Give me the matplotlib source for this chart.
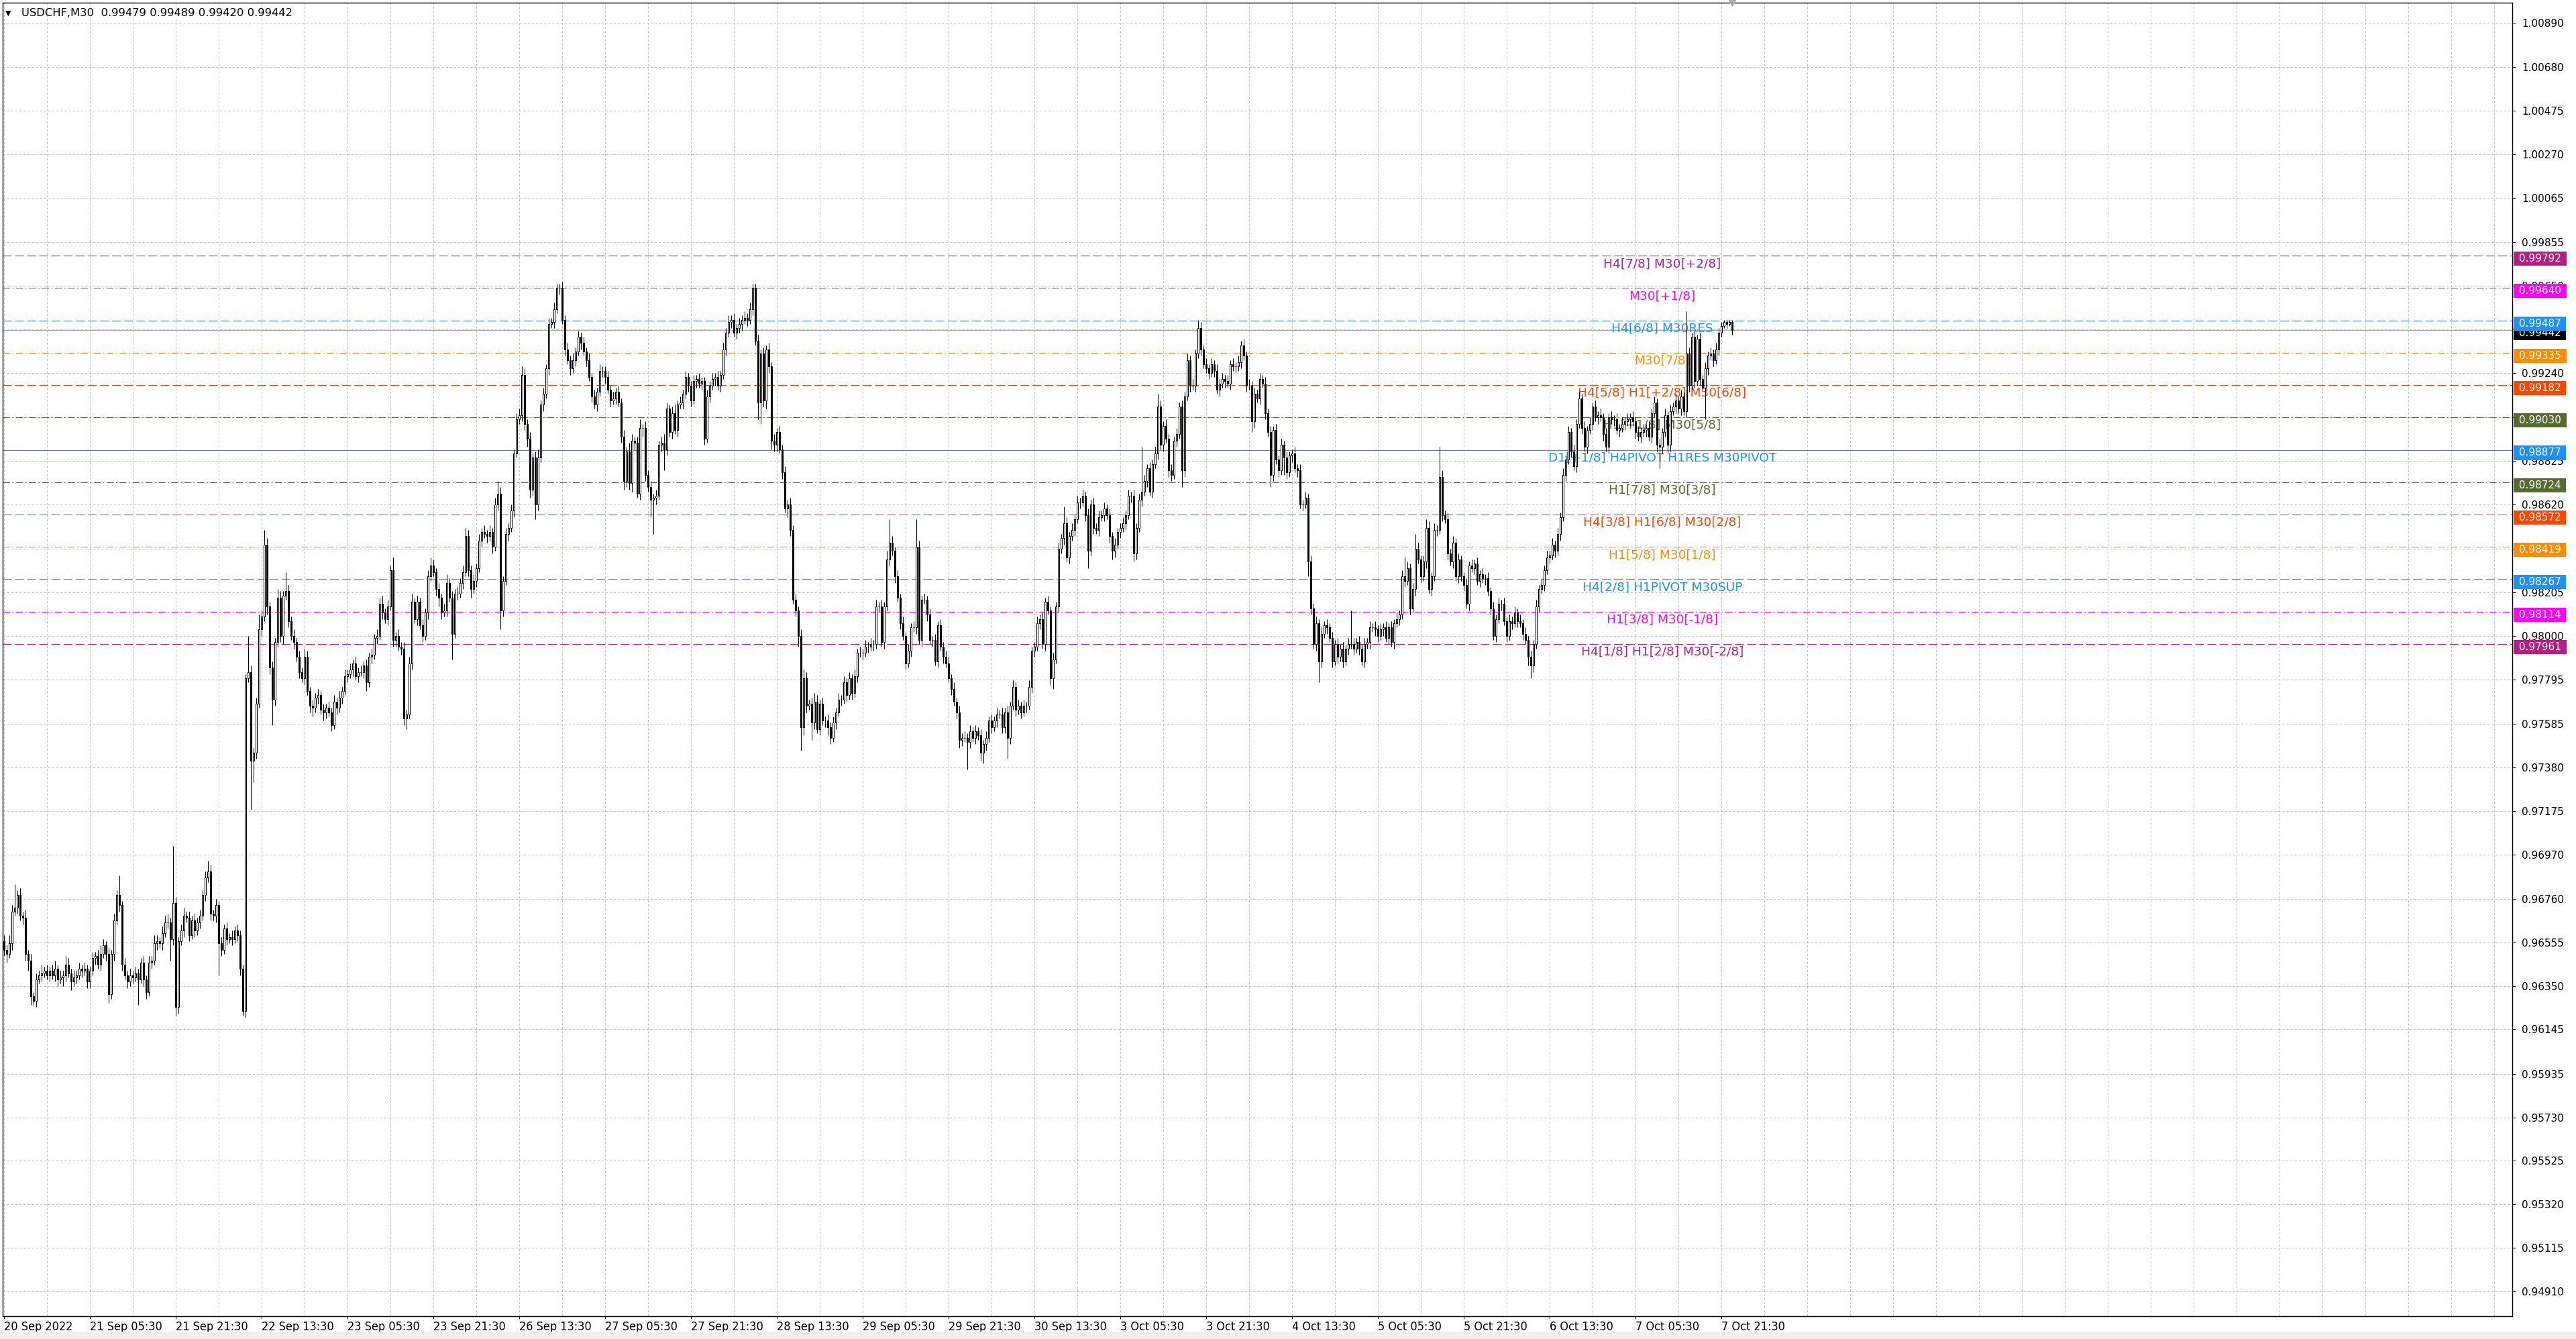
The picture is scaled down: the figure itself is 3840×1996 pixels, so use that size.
import matplotlib
matplotlib.use('Agg')
import matplotlib.pyplot as plt
from matplotlib import font_manager as fm
from matplotlib.patches import Rectangle
import numpy as np

plt.rcParams['font.family'] = 'DejaVu Sans'
plt.rcParams['lines.scale_dashes'] = False

# ---- data (prices in pips of 0.0001) ----
first_open = 9656
closes_pips = [
    9652, 9650, 9655, 9670, 9672, 9678, 9668, 9667, 9650, 9647, 9630, 9628, 9638, 9640, 9641, 9642,
    9640, 9642, 9640, 9643, 9638, 9639, 9640, 9645, 9641, 9637, 9639, 9640, 9643, 9642, 9643, 9637,
    9642, 9648, 9649, 9645, 9650, 9654, 9650, 9631, 9650, 9666, 9678, 9673, 9645, 9640, 9637, 9640,
    9639, 9641, 9638, 9646, 9638, 9632, 9646, 9647, 9655, 9656, 9655, 9660, 9665, 9665, 9657, 9674,
    9625, 9656, 9661, 9668, 9667, 9659, 9666, 9661, 9665, 9668, 9678, 9686, 9689, 9669, 9668, 9673,
    9655, 9652, 9662, 9657, 9658, 9657, 9661, 9659, 9643, 9623, 9780, 9783, 9741, 9745, 9768, 9803,
    9809, 9843, 9814, 9785, 9770, 9797, 9818, 9800, 9819, 9821, 9807, 9800, 9797, 9790, 9783, 9780,
    9790, 9774, 9767, 9766, 9771, 9772, 9765, 9764, 9766, 9764, 9758, 9769, 9766, 9771, 9774, 9781,
    9782, 9784, 9787, 9781, 9783, 9783, 9786, 9778, 9790, 9791, 9799, 9800, 9815, 9811, 9808, 9814,
    9831, 9798, 9800, 9795, 9794, 9761, 9763, 9787, 9816, 9808, 9816, 9805, 9800, 9811, 9828, 9833,
    9830, 9822, 9818, 9811, 9812, 9825, 9818, 9801, 9820, 9820, 9825, 9830, 9847, 9831, 9822, 9826,
    9832, 9845, 9849, 9848, 9847, 9849, 9842, 9862, 9867, 9812, 9826, 9848, 9851, 9859, 9886, 9902,
    9904, 9923, 9900, 9893, 9869, 9884, 9862, 9884, 9909, 9914, 9926, 9947, 9948, 9954, 9964, 9964,
    9949, 9935, 9930, 9926, 9930, 9934, 9941, 9938, 9934, 9930, 9922, 9913, 9909, 9915, 9925, 9925,
    9922, 9916, 9911, 9912, 9915, 9910, 9894, 9873, 9887, 9872, 9892, 9891, 9867, 9898, 9898, 9876,
    9870, 9864, 9865, 9866, 9890, 9891, 9888, 9907, 9896, 9905, 9897, 9909, 9910, 9914, 9922, 9918,
    9911, 9920, 9921, 9919, 9920, 9893, 9913, 9918, 9921, 9922, 9918, 9923, 9935, 9943, 9948, 9949,
    9943, 9945, 9947, 9949, 9950, 9949, 9954, 9964, 9939, 9910, 9933, 9911, 9935, 9927, 9892, 9890,
    9896, 9888, 9877, 9860, 9862, 9850, 9817, 9812, 9800, 9757, 9780, 9767, 9768, 9759, 9769, 9756,
    9768, 9760, 9760, 9757, 9752, 9759, 9764, 9770, 9770, 9778, 9772, 9780, 9773, 9781, 9792, 9792,
    9792, 9795, 9795, 9796, 9796, 9814, 9814, 9797, 9814, 9836, 9844, 9840, 9828, 9818, 9806, 9800,
    9787, 9793, 9804, 9804, 9842, 9798, 9817, 9817, 9810, 9798, 9798, 9788, 9805, 9795, 9790, 9787,
    9780, 9775, 9769, 9764, 9751, 9752, 9752, 9750, 9755, 9752, 9755, 9753, 9745, 9749, 9752, 9760,
    9757, 9760, 9763, 9763, 9757, 9764, 9752, 9767, 9776, 9765, 9767, 9764, 9767, 9767, 9776, 9793,
    9795, 9806, 9808, 9796, 9816, 9812, 9780, 9789, 9814, 9841, 9846, 9853, 9837, 9847, 9850, 9855,
    9863, 9863, 9866, 9857, 9840, 9862, 9851, 9850, 9856, 9857, 9860, 9857, 9847, 9840, 9843, 9849,
    9851, 9853, 9857, 9866, 9866, 9839, 9851, 9864, 9868, 9873, 9879, 9868, 9881, 9886, 9908, 9890,
    9899, 9893, 9878, 9876, 9892, 9895, 9908, 9878, 9913, 9930, 9918, 9918, 9933, 9945, 9935, 9928,
    9926, 9924, 9928, 9925, 9916, 9919, 9921, 9920, 9919, 9928, 9927, 9927, 9929, 9937, 9932, 9918,
    9918, 9901, 9914, 9912, 9921, 9919, 9905, 9896, 9876, 9897, 9883, 9878, 9890, 9884, 9877, 9885,
    9886, 9879, 9878, 9862, 9862, 9865, 9835, 9813, 9796, 9806, 9788, 9801, 9805, 9804, 9799, 9788,
    9796, 9790, 9794, 9788, 9794, 9796, 9796, 9794, 9797, 9794, 9788, 9796, 9797, 9804, 9804, 9803,
    9800, 9803, 9804, 9799, 9804, 9797, 9806, 9808, 9810, 9828, 9826, 9832, 9813, 9822, 9841, 9836,
    9828, 9835, 9851, 9822, 9828, 9850, 9850, 9875, 9857, 9855, 9839, 9835, 9844, 9828, 9836, 9828,
    9824, 9815, 9833, 9832, 9834, 9826, 9829, 9827, 9827, 9821, 9813, 9800, 9808, 9815, 9815, 9807,
    9800, 9807, 9806, 9811, 9807, 9806, 9801, 9798, 9790, 9786, 9796, 9814, 9822, 9824, 9831, 9837,
    9838, 9843, 9840, 9848, 9856, 9876, 9883, 9896, 9887, 9880, 9900, 9912, 9898, 9889, 9897, 9900,
    9908, 9903, 9904, 9903, 9895, 9889, 9903, 9902, 9902, 9897, 9898, 9900, 9901, 9902, 9903, 9901,
    9896, 9894, 9896, 9897, 9898, 9894, 9905, 9910, 9890, 9889, 9896, 9904, 9890, 9906, 9908, 9911,
    9907, 9913, 9906, 9933, 9918, 9941, 9920, 9940, 9921, 9917, 9926, 9932, 9933, 9930, 9935, 9943,
    9946, 9948, 9947, 9948, 9944.2,
]
# wick lengths above / below the body, in pips (16 bars per line)
wick_up_pips = [
    3, 2, 4, 3, 11, 2, 3, 2,   4, 2, 3, 2, 3, 2, 4, 2,
    3, 2, 3, 4, 2, 3, 2, 4,    3, 2, 3, 2, 3, 2, 3, 2,
    2, 3, 2, 3, 4, 3, 2, 3,    2, 3, 2, 9, 2, 3, 2, 3,
    2, 3, 2, 2, 3, 2, 3, 2,    4, 3, 2, 3, 3, 4, 2, 27,
    3, 2, 3, 4, 2, 3, 2, 3,    2, 3, 2, 3, 5, 3, 2, 3,
    2, 3, 2, 3, 2, 3, 2, 3,    2, 2, 2, 17, 3, 2, 3, 7,
    3, 7, 3, 2, 3, 2, 4, 3,    2, 9, 3, 2, 3, 2, 3, 2,
    4, 3, 2, 3, 2, 3, 2, 3,    2, 3, 2, 3, 2, 3, 2, 3,
    2, 3, 2, 3, 2, 3, 2, 3,    2, 3, 2, 3, 3, 4, 2, 3,
    2, 6, 2, 3, 2, 3, 2, 3,    4, 2, 3, 2, 3, 2, 3, 4,
    3, 2, 3, 2, 3, 4, 2, 3,    2, 3, 2, 3, 4, 3, 2, 3,
    2, 3, 2, 3, 2, 3, 2, 3,    6, 3, 2, 3, 2, 3, 2, 3,
    3, 4, 3, 2, 3, 2, 3, 4,    2, 3, 2, 3, 2, 3, 2, 2,
    3, 2, 3, 2, 3, 2, 3, 2,    3, 2, 3, 2, 3, 2, 3, 2,
    2, 3, 2, 3, 2, 3, 2, 3,    2, 4, 3, 2, 3, 4, 2, 3,
    2, 3, 2, 3, 2, 3, 4, 3,    2, 3, 4, 2, 3, 2, 3, 2,
    2, 3, 2, 3, 2, 2, 3, 2,    3, 2, 3, 2, 3, 2, 3, 2,
    3, 2, 3, 2, 3, 2, 3, 2,    2, 3, 2, 3, 2, 3, 2, 3,
    2, 3, 2, 3, 2, 3, 2, 3,    2, 3, 4, 3, 2, 3, 4, 3,
    2, 3, 2, 3, 2, 3, 2, 3,    2, 3, 2, 3, 2, 3, 2, 3,
    2, 3, 2, 3, 2, 3, 2, 3,    2, 4, 11, 3, 2, 3, 2, 3,
    2, 3, 2, 3, 13, 3, 2, 3,   2, 3, 2, 3, 2, 3, 2, 3,
    3, 2, 3, 2, 3, 2, 3, 2,    3, 2, 3, 2, 3, 2, 3, 2,
    3, 2, 3, 2, 3, 2, 3, 2,    3, 2, 3, 2, 3, 2, 3, 2,
    2, 3, 2, 3, 2, 3, 2, 3,    2, 3, 2, 8, 3, 2, 3, 2,
    3, 2, 3, 2, 3, 2, 3, 2,    3, 2, 3, 2, 3, 2, 3, 2,
    2, 3, 2, 3, 2, 3, 2, 3,    21, 3, 2, 3, 2, 3, 6, 3,
    2, 3, 2, 3, 2, 3, 2, 3,    2, 3, 2, 3, 2, 4, 3, 2,
    3, 2, 3, 2, 3, 2, 3, 2,    3, 2, 3, 2, 3, 2, 3, 2,
    3, 2, 3, 2, 3, 2, 3, 2,    3, 2, 3, 2, 3, 2, 3, 2,
    2, 3, 2, 3, 2, 3, 2, 3,    2, 3, 2, 3, 2, 3, 2, 3,
    2, 3, 2, 3, 2, 3, 16, 3,   2, 3, 2, 3, 2, 3, 2, 3,
    2, 3, 2, 3, 2, 3, 2, 3,    2, 3, 9, 3, 2, 3, 7, 3,
    2, 3, 4, 3, 2, 3, 2, 14,   3, 2, 3, 2, 3, 2, 3, 2,
    2, 3, 2, 3, 2, 3, 2, 3,    2, 3, 2, 3, 2, 3, 2, 3,
    2, 3, 2, 3, 2, 3, 2, 3,    2, 3, 2, 3, 2, 3, 2, 3,
    2, 3, 2, 3, 2, 3, 2, 3,    2, 3, 2, 3, 2, 3, 2, 3,
    2, 3, 2, 3, 2, 3, 2, 3,    2, 3, 2, 3, 2, 3, 2, 3,
    2, 3, 2, 3, 2, 3, 2, 3,    2, 3, 2, 3, 2, 3, 2, 3,
    2, 3, 2, 20, 3, 2, 3, 2,   3, 2, 3, 2, 3, 2, 3, 2,
    2, 1, 1, 1, 1,
]
wick_dn_pips = [
    3, 4, 2, 3, 2, 3, 2, 3,    3, 5, 4, 2, 3, 2, 3, 2,
    2, 3, 2, 3, 3, 2, 4, 3,    2, 4, 2, 3, 2, 3, 2, 3,
    3, 2, 3, 2, 3, 2, 3, 4,    2, 3, 2, 3, 3, 2, 3, 2,
    3, 2, 12, 2, 3, 3, 2, 3,   2, 3, 2, 3, 2, 3, 10, 3,
    4, 3, 2, 3, 2, 3, 2, 3,    2, 3, 2, 3, 2, 3, 2, 3,
    15, 3, 2, 3, 2, 3, 2, 3,   3, 2, 3, 2, 23, 10, 3, 2,
    3, 2, 4, 3, 12, 3, 2, 3,   4, 2, 3, 2, 3, 2, 3, 2,
    3, 2, 3, 4, 2, 3, 2, 4,    3, 2, 3, 2, 3, 2, 3, 2,
    3, 2, 3, 2, 3, 2, 3, 4,    2, 3, 2, 3, 2, 3, 2, 3,
    2, 3, 3, 2, 3, 3, 5, 2,    3, 2, 3, 2, 3, 2, 3, 2,
    2, 3, 4, 3, 2, 3, 2, 12,   2, 3, 2, 3, 2, 3, 4, 2,
    3, 2, 3, 2, 3, 2, 3, 2,    3, 9, 3, 2, 3, 2, 3, 2,
    2, 3, 3, 4, 4, 3, 7, 3,    2, 3, 2, 3, 2, 3, 2, 3,
    2, 3, 2, 3, 2, 3, 2, 3,    2, 3, 2, 3, 2, 3, 2, 3,
    3, 2, 3, 2, 3, 2, 3, 4,    3, 3, 4, 3, 2, 3, 4, 3,
    2, 8, 16, 3, 2, 3, 10, 3,  2, 3, 2, 3, 2, 3, 2, 3,
    3, 2, 3, 2, 3, 3, 2, 3,    2, 3, 2, 3, 2, 3, 2, 3,
    2, 3, 2, 3, 2, 3, 2, 3,    2, 8, 10, 3, 4, 3, 4, 3,
    3, 2, 3, 2, 4, 3, 2, 3,    5, 11, 4, 3, 2, 8, 3, 2,
    3, 2, 3, 4, 3, 2, 3, 2,    3, 2, 3, 2, 3, 2, 3, 2,
    3, 2, 3, 2, 3, 2, 3, 2,    3, 2, 3, 2, 3, 2, 3, 2,
    3, 2, 3, 2, 3, 2, 3, 2,    3, 2, 3, 2, 3, 2, 3, 2,
    2, 3, 2, 3, 4, 3, 2, 13,   3, 2, 3, 2, 4, 5, 3, 2,
    3, 2, 3, 2, 3, 3, 10, 3,   2, 3, 2, 3, 2, 3, 2, 3,
    3, 2, 3, 2, 3, 2, 3, 5,    2, 3, 2, 3, 2, 3, 2, 3,
    2, 3, 2, 3, 8, 2, 3, 2,    3, 2, 3, 2, 3, 4, 3, 2,
    3, 2, 3, 2, 3, 4, 3, 2,    3, 2, 3, 2, 3, 2, 3, 2,
    3, 2, 3, 3, 2, 3, 2, 8,    3, 2, 3, 2, 3, 2, 3, 2,
    2, 3, 2, 3, 2, 3, 2, 3,    2, 3, 2, 3, 2, 3, 2, 3,
    2, 5, 3, 2, 3, 2, 3, 2,    6, 3, 2, 3, 2, 8, 3, 2,
    3, 2, 3, 2, 3, 2, 7, 3,    2, 3, 10, 3, 2, 3, 2, 3,
    2, 3, 2, 3, 2, 3, 2, 3,    2, 3, 2, 3, 2, 3, 2, 3,
    3, 2, 3, 2, 3, 2, 3, 2,    3, 2, 3, 2, 3, 2, 3, 2,
    3, 2, 3, 2, 3, 2, 3, 2,    3, 2, 3, 2, 3, 2, 3, 2,
    3, 2, 3, 2, 3, 2, 3, 2,    3, 2, 3, 2, 3, 2, 3, 2,
    3, 2, 3, 2, 3, 2, 3, 2,    4, 6, 3, 2, 3, 2, 3, 2,
    3, 2, 3, 2, 3, 2, 3, 2,    3, 2, 3, 2, 3, 2, 3, 2,
    3, 2, 3, 2, 3, 2, 3, 2,    3, 2, 3, 2, 3, 2, 3, 2,
    3, 2, 3, 2, 3, 2, 3, 2,    3, 10, 3, 2, 4, 3, 2, 3,
    2, 3, 2, 3, 3, 2, 3, 2,    3, 2, 15, 3, 2, 3, 2, 3,
    2, 1, 2, 1, 2,
]
last_ohlc = [0.99479, 0.99489, 0.99420, 0.99442]   # current bar (header)

level_prices = [0.99792, 0.99640, 0.99487, 0.99335, 0.99182, 0.99030, 0.98877,
                0.98724, 0.98572, 0.98419, 0.98267, 0.98114, 0.97961]
level_names = ["H4[7/8] M30[+2/8]", "M30[+1/8]", "H4[6/8] M30RES", "M30[7/8]",
               "H4[5/8] H1[+2/8] M30[6/8]", "H1[+1/8] M30[5/8]",
               "D1[+1/8] H4PIVOT H1RES M30PIVOT", "H1[7/8] M30[3/8]",
               "H4[3/8] H1[6/8] M30[2/8]", "H1[5/8] M30[1/8]",
               "H4[2/8] H1PIVOT M30SUP", "H1[3/8] M30[-1/8]", "H4[1/8] H1[2/8] M30[-2/8]"]
level_colors = ["#B51E85", "#FF00FF", "#1E90FF", "#FF8C00", "#FF4500", "#556B2F", "#1E90FF",
                "#556B2F", "#FF4500", "#FF8C00", "#1E90FF", "#FF00FF", "#B51E85"]
level_kinds = ["dash", "dashdot", "dash", "dashdot", "dash", "dashdot", "solid",
               "dashdot", "dash", "dashdot", "dash", "dashdot", "dash"]

ytick_vals = [1.00890, 1.00680, 1.00475, 1.00270, 1.00065, 0.99855, 0.99650, 0.99445,
              0.99240, 0.99030, 0.98825, 0.98620, 0.98410, 0.98205, 0.98000, 0.97795,
              0.97585, 0.97380, 0.97175, 0.96970, 0.96760, 0.96555, 0.96350, 0.96145,
              0.95935, 0.95730, 0.95525, 0.95320, 0.95115, 0.94910]
# price-scale labels fully covered by the level boxes in the reference
ytick_hidden = [0.99445, 0.99030, 0.98410]
xtick_labels = ["20 Sep 2022", "21 Sep 05:30", "21 Sep 21:30", "22 Sep 13:30", "23 Sep 05:30",
                "23 Sep 21:30", "26 Sep 13:30", "27 Sep 05:30", "27 Sep 21:30", "28 Sep 13:30",
                "29 Sep 05:30", "29 Sep 21:30", "30 Sep 13:30", "3 Oct 05:30", "3 Oct 21:30",
                "4 Oct 13:30", "5 Oct 05:30", "5 Oct 21:30", "6 Oct 13:30", "7 Oct 05:30",
                "7 Oct 21:30"]
bars_per_label = 32
header = "USDCHF,M30  0.99479 0.99489 0.99420 0.99442"


def narrow_font():
    # condensed face for the time axis if one is installed
    try:
        fm.findfont(fm.FontProperties(family='Liberation Sans Narrow'), fallback_to_default=False)
        return dict(family='Liberation Sans Narrow', size=13.5)
    except ValueError:
        pass
    path = fm.findfont(fm.FontProperties(family='DejaVu Sans', stretch='condensed'))
    if 'ondensed' in path:
        return dict(family='DejaVu Sans', stretch='condensed', size=13)
    return dict(family='Liberation Sans', size=12.5)


# ---- build OHLC ----
n = len(closes_pips)
closes = np.array(closes_pips, dtype=float) / 1e4
opens = np.concatenate([[first_open / 1e4], closes[:-1]])
highs = np.maximum(opens, closes) + np.array(wick_up_pips[:n]) / 1e4
lows = np.minimum(opens, closes) - np.array(wick_dn_pips[:n]) / 1e4
opens[-1], highs[-1], lows[-1], closes[-1] = last_ohlc
x = np.arange(n)

# ---- figure ----
W, H = 3840, 1996
fig = plt.figure(figsize=(W / 100, H / 100), dpi=100, facecolor='white')
ax = fig.add_axes([4 / W, 1 - 1962 / H, (3745 - 4) / W, (1962 - 3.5) / H])
ax.set_xlim(-0.5, 934.75)
ax.set_ylim(0.947926, 1.009865)

# ticks and grid
ax.set_yticks(ytick_vals)
ax.set_yticklabels(["" if v in ytick_hidden else f"{v:.5f}" for v in ytick_vals])
ax.set_xticks(np.arange(len(xtick_labels)) * bars_per_label)
ax.set_xticklabels(xtick_labels)
ax.set_xticks(np.arange(0, 935, 16), minor=True)
ax.grid(True, which='both', axis='x', color='#C4C4C4', linestyle=(0, (2.4, 2.0)), linewidth=0.75)
ax.grid(True, which='major', axis='y', color='#C4C4C4', linestyle=(0, (2.4, 2.0)), linewidth=0.75)
ax.set_axisbelow(True)

ax.yaxis.tick_right()
ax.tick_params(axis='y', which='major', length=3.6, width=0.75, pad=6.5, labelsize=11, colors='black')
ax.tick_params(axis='x', which='major', length=3, width=0.75, pad=2)
ax.tick_params(axis='x', which='minor', length=0)
xfont = narrow_font()
for lab in ax.get_xticklabels():
    lab.set_horizontalalignment('left')
    lab.set_family(xfont['family'])
    lab.set_fontsize(xfont['size'])
    if 'stretch' in xfont:
        lab.set_stretch(xfont['stretch'])
for sp in ax.spines.values():
    sp.set_linewidth(1.0)
    sp.set_color('black')

# level lines + labels
styles = {"dash": (0, (9.4, 3.6)), "dashdot": (0, (7.5, 2.6, 1.2, 2.6)), "solid": '-'}
label_bar = 618
for price, name, col, kind in zip(level_prices, level_names, level_colors, level_kinds):
    ax.axhline(price, color=col, linewidth=0.8, linestyle=styles[kind], zorder=1.5)
    ax.annotate(name, xy=(label_bar, price), xytext=(0, -2.2), textcoords='offset points',
                ha='center', va='top', color=col, fontsize=13.3, zorder=2)

# current price line and price boxes on the scale (sit a little below their line)
box_dy = -3.2
ax.axhline(last_ohlc[3], color='#A8A8A8', linewidth=0.8, zorder=1.6)
ax.annotate(f" {last_ohlc[3]:.5f} ", xy=(1, last_ohlc[3]), xycoords=('axes fraction', 'data'),
            xytext=(3.4, box_dy), textcoords='offset points', ha='left', va='center',
            color='white', fontsize=11, annotation_clip=False, zorder=6,
            bbox=dict(boxstyle='square,pad=0.2', fc='black', ec='none'))
for price, col in zip(level_prices, level_colors):
    ax.annotate(f" {price:.5f} ", xy=(1, price), xycoords=('axes fraction', 'data'),
                xytext=(3.4, box_dy), textcoords='offset points', ha='left', va='center',
                color='white', fontsize=11, annotation_clip=False, zorder=7,
                bbox=dict(boxstyle='square,pad=0.2', fc=col, ec='none'))

# candles
up = closes >= opens
ax.vlines(x, lows, highs, color='black', linewidth=0.75, zorder=3)
ax.bar(x[up], closes[up] - opens[up], bottom=opens[up], width=0.6,
       facecolor='white', edgecolor='black', linewidth=0.75, zorder=4)
ax.bar(x[~up], closes[~up] - opens[~up], bottom=opens[~up], width=0.6,
       facecolor='black', edgecolor='black', linewidth=0.75, zorder=4)

# chart shift marker
ax.plot([x[-1]], [ax.get_ylim()[1]], marker='v', markersize=7, color='#AAAAAA',
        clip_on=False, zorder=8)

# header
ax.annotate("\u25BC", xy=(0, 1), xycoords='axes fraction', xytext=(2.6, -11.5),
            textcoords='offset points', ha='left', va='center', fontsize=8, color='black')
ax.annotate(header, xy=(0, 1), xycoords='axes fraction', xytext=(20.3, -11.5),
            textcoords='offset points', ha='left', va='center', fontsize=11.8, color='black')

fig.patches.append(Rectangle((0, 0), 1, 11 / H, transform=fig.transFigure,
                             facecolor='#F0F0F0', edgecolor='none'))

fig.savefig('out.png', dpi=100, facecolor='white')
